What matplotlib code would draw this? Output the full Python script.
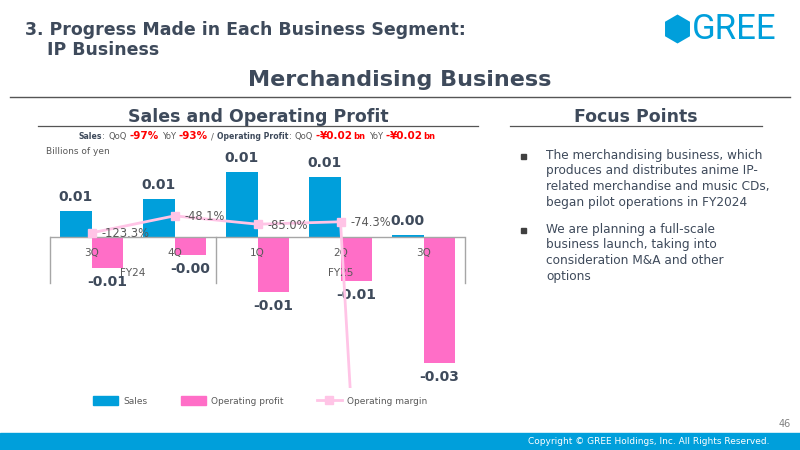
import numpy as np
import matplotlib.pyplot as plt
from matplotlib.patches import Rectangle, RegularPolygon
from matplotlib.lines import Line2D
from matplotlib.text import Annotation
from matplotlib.transforms import Affine2D

# data (billions of yen)
quarters = ['3Q', '4Q', '1Q', '2Q', '3Q']
years = ['FY24', 'FY25']
year_first = [0, 2]
year_last = [1, 4]
sales = [0.0058, 0.0085, 0.0145, 0.0134, 0.0004]
op_profit = [-0.0069, -0.0040, -0.0123, -0.0098, -0.0281]
op_margin = [-123.3, -48.1, -85.0, -74.3, -6400.0]
margin_shown = [True, True, True, True, False]

bullets = [
    "The merchandising business, which\nproduces and distributes anime IP-\nrelated merchandise and music CDs,\nbegan pilot operations in FY2024",
    "We are planning a full-scale\nbusiness launch, taking into\nconsideration M&A and other\noptions",
]

DARK = '#3E4A5B'
GREY = '#595959'
BLUE = '#009FDB'
PINK = '#FF6EC7'
LPINK = '#FFC4E6'
RED = '#FF0000'

plt.rcParams['font.family'] = ['DejaVu Sans']

fig = plt.figure(figsize=(8, 4.5), dpi=100)
W, H = 800, 450


def fx(px):
    return px / W


def fy(py):
    return 1 - py / H


# header
fig.text(fx(25), fy(30), "3. Progress Made in Each Business Segment:", fontsize=12.5,
         fontweight='bold', color=DARK, va='center')
fig.text(fx(47), fy(50), "IP Business", fontsize=12.5, fontweight='bold', color=DARK, va='center')
fig.text(fx(400), fy(80), "Merchandising Business", fontsize=16, fontweight='bold',
         color=DARK, va='center', ha='center')
fig.add_artist(Line2D([fx(10), fx(790)], [fy(97), fy(97)], color='#555555', lw=1))

# logo (hexagon drawn in pixel space so it stays regular)
hexagon = RegularPolygon((0, 0), 6, radius=1, orientation=0, facecolor=BLUE, edgecolor='none')
hexagon.set_transform(Affine2D().scale(14.4, 14.5).translate(677.5, H - 29))
fig.add_artist(hexagon)
fig.text(fx(692), fy(29.5), "GREE", fontsize=25, family='Roboto', color=BLUE,
         va='center', ha='left')

# section headings
fig.text(fx(258), fy(117), "Sales and Operating Profit", fontsize=12.5, fontweight='bold',
         color=DARK, ha='center', va='center')
fig.add_artist(Line2D([fx(38), fx(478)], [fy(126), fy(126)], color='#555555', lw=0.9))
fig.text(fx(636), fy(117), "Focus Points", fontsize=12.5, fontweight='bold',
         color=DARK, ha='center', va='center')
fig.add_artist(Line2D([fx(510), fx(762)], [fy(126), fy(126)], color='#555555', lw=0.9))

# mixed colour subtitle, each piece chained to the previous one (gap in pixels)
pieces = [("Sales", 'bold', DARK, 5.6, 0), (":", 'normal', GREY, 6, 0.5),
          ("QoQ", 'normal', GREY, 6, 3), ("-97%", 'bold', RED, 7.5, 3),
          ("YoY", 'normal', GREY, 6, 3), ("-93%", 'bold', RED, 7.5, 3),
          ("/", 'normal', GREY, 6, 3), ("Operating Profit", 'bold', DARK, 5.6, 3),
          (":", 'normal', GREY, 6, 0.5), ("QoQ", 'normal', GREY, 6, 3),
          ("-", 'bold', RED, 7.5, 3), ("¥0.02", 'bold', RED, 7.5, 0.3),
          ("bn", 'bold', RED, 6, 0.5),
          ("YoY", 'normal', GREY, 6, 3), ("-", 'bold', RED, 7.5, 3),
          ("¥0.02", 'bold', RED, 7.5, 0.3), ("bn", 'bold', RED, 6, 0.5)]
first = fig.text(fx(84), fy(141), pieces[0][0], fontsize=pieces[0][3], fontweight=pieces[0][1],
                 color=pieces[0][2], va='bottom', ha='left')
prev = first
for s, wgt, c, sz, gap in pieces[1:]:
    prev = Annotation(s, xy=(1, 0), xycoords=prev, xytext=(gap, 0), textcoords='offset pixels',
                      va='bottom', ha='left', fontsize=sz, fontweight=wgt, color=c)
    fig.add_artist(prev)
fig.canvas.draw()
x_left = first.get_window_extent().x0
x_right = prev.get_window_extent().x1
first.set_x(fx(x_left + (257 - (x_left + x_right) / 2)))

fig.text(fx(46), fy(152), "Billions of yen", fontsize=6.5, color=GREY, va='center')

# chart
ax = fig.add_axes([fx(50), fy(388), fx(465) - fx(50), (388 - 150) / H])
x = np.arange(len(quarters))
bw = 0.385
ax.bar(x - bw / 2, sales, width=bw, color=BLUE, zorder=2)
ax.bar(x + bw / 2, op_profit, width=bw, color=PINK, zorder=2)
ax.set_xlim(-0.5, len(quarters) - 0.5)
ax.set_ylim(-0.0337, 0.0194)
ax.axhline(0, color='#A6A6A6', lw=1, zorder=3)
for s in ax.spines.values():
    s.set_visible(False)
ax.set_xticks([])
ax.set_yticks([])

sep_depth = -46 / 4480
for b in [-0.5, 1.5, len(quarters) - 0.5]:
    ax.plot([b, b], [0, sep_depth], color='#A6A6A6', lw=1, zorder=3, clip_on=False)

for i, q in enumerate(quarters):
    ax.annotate(q, (i, 0), xytext=(0, -16), textcoords='offset pixels', ha='center',
                va='center', fontsize=7.5, color=GREY, zorder=5)
for yr, a, b in zip(years, year_first, year_last):
    ax.annotate(yr, ((a + b) / 2, 0), xytext=(0, -36), textcoords='offset pixels',
                ha='center', va='center', fontsize=7.5, color=GREY, zorder=5)

for i, v in enumerate(sales):
    ax.annotate('{:.2f}'.format(v), (i - bw / 2, v), xytext=(0, 14), textcoords='offset pixels',
                ha='center', va='center', fontsize=10, fontweight='bold', color=DARK, zorder=6)
for i, v in enumerate(op_profit):
    ax.annotate('{:.2f}'.format(v), (i + bw / 2, v), xytext=(0, -14), textcoords='offset pixels',
                ha='center', va='center', fontsize=10, fontweight='bold', color=DARK, zorder=6)

ax2 = ax.twinx()
ax2.set_ylim(-809, 243)
for s in ax2.spines.values():
    s.set_visible(False)
ax2.set_yticks([])
ax2.plot(x, op_margin, color=LPINK, lw=2, marker='s', markersize=6, zorder=4)
for i, (v, show) in enumerate(zip(op_margin, margin_shown)):
    if show:
        ax2.annotate('{:.1f}%'.format(v), (i, v), xytext=(10, -1), textcoords='offset pixels',
                     ha='left', va='center', fontsize=8.3, color=GREY, zorder=5)

handles = [Rectangle((0, 0), 1, 1, color=BLUE), Rectangle((0, 0), 1, 1, color=PINK),
           Line2D([0], [0], color=LPINK, lw=2, marker='s', markersize=6)]
fig.legend(handles, ['Sales', 'Operating profit', 'Operating margin'], loc='center',
           bbox_to_anchor=(fx(260), fy(401)), ncol=3, frameon=False, fontsize=6.5,
           handlelength=2.8, handleheight=1.1, columnspacing=3.7, labelcolor=GREY,
           handletextpad=0.55)

# focus points
ys = [156, 230]
for txt, yb in zip(bullets, ys):
    fig.add_artist(Rectangle((fx(521), fy(yb + 2.5)), fx(5), 5 / H, color='#404040'))
    fig.text(fx(546), fy(yb - 7.5), txt, fontsize=8.7, color=DARK, va='top', ha='left',
             linespacing=1.28)

# footer
fig.text(fx(791), fy(424), "46", fontsize=7, color='#808080', ha='right', va='center')
fig.add_artist(Rectangle((0, 0), 1, 17 / H, color=BLUE))
fig.text(fx(770), fy(441.5), "Copyright © GREE Holdings, Inc. All Rights Reserved.",
         fontsize=6.5, color='white', ha='right', va='center')

fig.savefig('out.png', dpi=100)
